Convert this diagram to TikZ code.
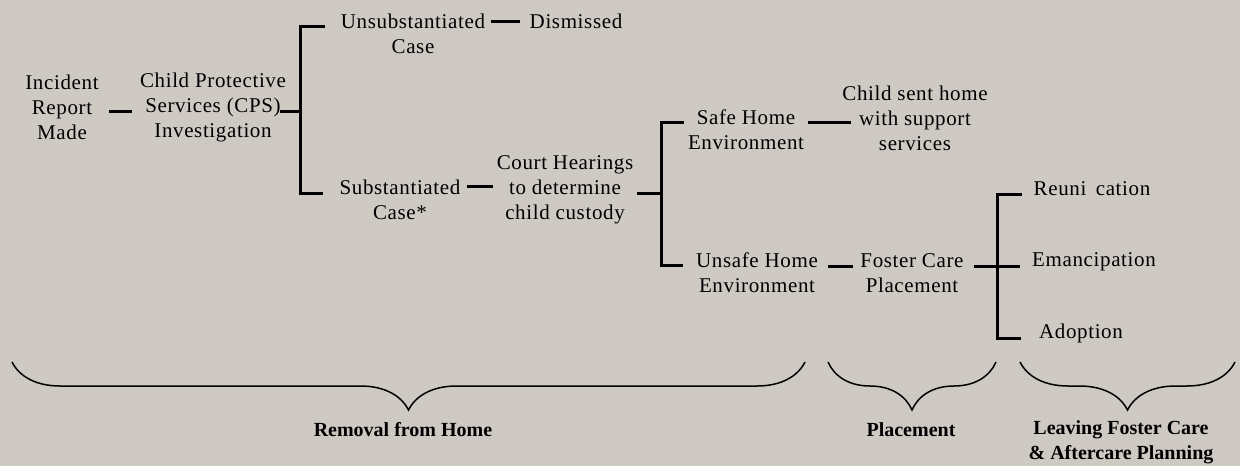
\documentclass[tikz,border=0pt]{standalone}
\usepackage{fontspec}
\setmainfont{Liberation Serif}
\usepackage{tikz}
\usetikzlibrary{decorations.pathreplacing}
\definecolor{paper}{RGB}{207,201,196}

\begin{document}
\begin{tikzpicture}[x=1pt, y=-1pt,
  box/.style={align=center, inner xsep=4pt, inner ysep=1pt,
    font=\fontsize{21}{25}\selectfont\addfontfeature{LetterSpace=3}},
  link/.style={line width=3pt},
  period/.style={decorate, decoration={brace, amplitude=48pt, mirror}, line width=1.5pt},
  phase/.style={align=center, font=\fontsize{20}{25}\selectfont\bfseries}]
  \useasboundingbox (0,0) rectangle (1240,466);
  \fill[paper] (0,0) rectangle (1240,466);
  % removal from home
  \node[box] (inc) at (62,107) {Incident\\Report\\Made};
  \node[box] (cps) at (213,107) {Child Protective\\Services (CPS)\\Investigation};
  \node[box] (unsub) at (413,34) {Unsubstantiated\\Case};
  \node[box] (dis) at (576,21) {Dismissed};
  \node[box] (sub) at (400,200) {Substantiated\\Case*};
  \node[box] (court) at (565,190) {Court Hearings\\to determine\\child custody};
  \node[box] (safe) at (746,130) {Safe Home\\Environment};
  \node[box] (home) at (915,118) {Child sent home\\with support\\services};
  \node[box] (unsafe) at (757,273) {Unsafe Home\\Environment};
  % placement and leaving care
  \node[box] (foster) at (912,273) {Foster Care\\Placement};
  \node[box] (reu) at (1092,189) {Reuni\hspace{0.45em}cation};
  \node[box] (eman) at (1094,262) {Emancipation};
  \node[box] (adop) at (1081,333) {Adoption};
  % links
  \draw[link] ([xshift=6pt,yshift=-4pt]inc.east) -- ([xshift=-4pt,yshift=-4pt]cps.west);
  \coordinate (j1) at (300,111);
  \coordinate (b1t) at (300,26);
  \coordinate (b1b) at (300,193);
  \draw[link] ([xshift=-10pt,yshift=-4pt]cps.east) -- (j1);
  \draw[link] ([xshift=-12pt]unsub.west |- b1t) -- (b1t) -- (b1b) -- ([xshift=-12pt]sub.west |- b1b);
  \draw[link] ([xshift=2pt,yshift=13pt]unsub.east) -- ([xshift=-6pt,yshift=13pt]unsub.east -| dis.west);
  \draw[link] ([xshift=2pt,yshift=14pt]sub.east) -- ([yshift=14pt]sub.east -| court.west);
  \coordinate (j3) at (661,193);
  \coordinate (b3t) at (661,122);
  \coordinate (b3b) at (661,265);
  \draw[link] ([yshift=-3pt]court.east) -- (j3);
  \draw[link] (safe.west |- b3t) -- (b3t) -- (b3b) -- ([xshift=-9pt]unsafe.west |- b3b);
  \draw[link] ([yshift=8pt]safe.east) -- ([xshift=13pt,yshift=8pt]safe.east -| home.west);
  \draw[link] ([xshift=6pt,yshift=7pt]unsafe.east) -- ([xshift=-3pt,yshift=7pt]unsafe.east -| foster.west);
  \coordinate (b4t) at (997,194);
  \coordinate (b4b) at (997,338);
  \draw[link] ([xshift=6pt,yshift=7pt]foster.east) -- ([xshift=-8pt,yshift=7pt]foster.east -| eman.west);
  \draw[link] ([xshift=-8pt]reu.west |- b4t) -- (b4t) -- (b4b) -- ([xshift=-14pt]adop.west |- b4b);
  % stages
  \draw[period] (12,362) -- (805,362);
  \draw[period] (828,362) -- (996,362);
  \draw[period] (1020,362) -- (1235,362);
  \node[phase] (removal) at (403,430) {Removal from Home};
  \node[phase] (place) at (911,430) {Placement};
  \node[phase] (leave) at (1121,442) {Leaving Foster Care\\\& Aftercare Planning};
\end{tikzpicture}
\end{document}
